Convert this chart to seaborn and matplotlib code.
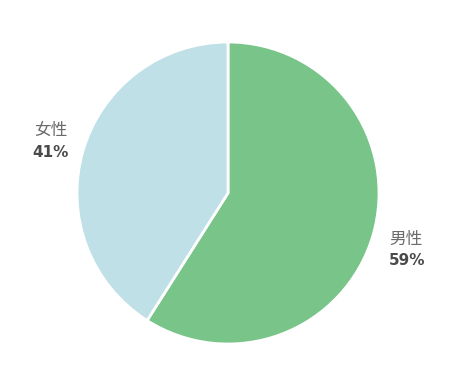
import numpy as np
import matplotlib
matplotlib.use("Agg")
import matplotlib.pyplot as plt
import seaborn as sns

categories = ["男性", "女性"]
values = [59, 41]
pct_labels = ["59%", "41%"]

sns.set_theme(style="white")
plt.rcParams['font.family'] = ['Noto Sans CJK SC', 'DejaVu Sans']

colors = ["#78c489", "#bfe0e6"]

fig = plt.figure(figsize=(4.5, 3.78), dpi=100)
ax = fig.add_axes([77/450, (378-344)/378, 302/450, 302/378])
wedges, _ = ax.pie(values, colors=colors, startangle=90, counterclock=False,
                   radius=1.0, wedgeprops=dict(edgecolor="white", linewidth=2))
ax.set_xlim(-1, 1)
ax.set_ylim(-1, 1)
ax.set_aspect("equal")
ax.axis("off")

# layout offsets (points) for name / percent relative to the anchor
offsets = [((0, 0), (0, -15)), ((0, 12), (1, -4))]
for w, name, pct, (noff, poff) in zip(wedges, categories, pct_labels, offsets):
    ang = np.deg2rad((w.theta1 + w.theta2) / 2)
    x, y = 1.11 * np.cos(ang), 1.1 * np.sin(ang)
    ha = "left" if x > 0 else "right"
    ax.annotate(name, (x, y), xytext=noff, textcoords="offset points",
                ha=ha, va="center", fontsize=12, color="#6b6b6b",
                fontweight="light", annotation_clip=False)
    ax.annotate(pct, (x, y), xytext=poff, textcoords="offset points",
                ha=ha, va="center", fontsize=11, color="#4a4a4a",
                fontweight="heavy", family=["DejaVu Sans"],
                annotation_clip=False)

fig.savefig("out.png", dpi=100)
